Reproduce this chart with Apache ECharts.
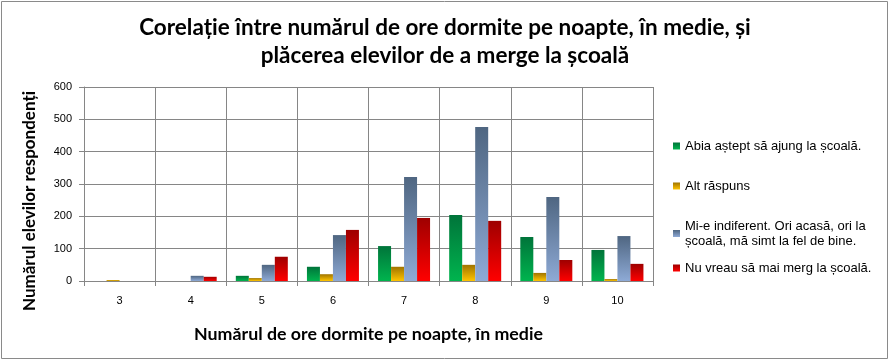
<!DOCTYPE html>
<html><head><meta charset="utf-8">
<script src="https://cdn.jsdelivr.net/npm/echarts@6/dist/echarts.min.js"></script>
<style>html,body{margin:0;padding:0;background:#fff}#c{width:890px;height:361px}</style>
</head><body><div id="c"></div>
<script>
const categories = ['3','4','5','6','7','8','9','10'];
const seriesNames = ['Abia aștept să ajung la școală.','Alt răspuns','Mi-e indiferent. Ori acasă, ori la școală, mă simt la fel de bine.','Nu vreau să mai merg la școală.'];
const abia = [0,0,16,44,108,204,136,96];
const alt = [3,0,9,21,44,50,25,6];
const indiferent = [0,16,50,142,322,476,260,139];
const nuVreau = [0,13,75,158,195,186,65,53];
const yTicks = [0,100,200,300,400,500,600];

const grads = [['#00743A','#00B44E'],['#A07400','#FFC400'],['#4F6681','#8EAAD6'],['#9E0000','#FF0000']];
function grad(c){return new echarts.graphic.LinearGradient(0,0,0,1,[{offset:0,color:c[0]},{offset:1,color:c[1]}]);}
const values=[abia,alt,indiferent,nuVreau];
const chart = echarts.init(document.getElementById('c'));
const legendTops=[133.5,173.5,213.5,255.5];
chart.setOption({
  animation:false,
  graphic:[
    {type:'rect',shape:{x:1.5,y:1.5,width:886,height:357},style:{fill:'none',stroke:'#8a8a8a',lineWidth:1},silent:true},
    {type:'text',x:30,y:201,rotation:Math.PI/2,style:{text:'Numărul elevilor respondenți',align:'center',verticalAlign:'middle',
      fontFamily:'Lato',fontWeight:'bold',fontSize:17,fill:'#000'},silent:true}
  ],
  title:{text:'Corelație între numărul de ore dormite pe noapte, în medie, și\nplăcerea elevilor de a merge la școală',left:'center',top:9,
    textStyle:{fontFamily:'Lato',fontWeight:'bold',fontSize:22.5,lineHeight:28,color:'#000'}},
  legend: seriesNames.map((n,i)=>({data:[n],orient:'vertical',left:668,top:legendTops[i],itemWidth:7,itemHeight:7,itemGap:0,icon:'rect',
    formatter: i===2 ? ()=> 'Mi-e indiferent. Ori acasă, ori la\nșcoală, mă simt la fel de bine.' : undefined,
    textStyle:{fontFamily:'Liberation Sans',fontSize:13,color:'#000',lineHeight:15}})),
  grid:{left:84,right:237,top:87,bottom:80,containLabel:false},
  xAxis:{type:'category',data:categories,
    axisLine:{lineStyle:{color:'#868686'}},axisTick:{show:true,length:5,lineStyle:{color:'#868686'}},
    splitLine:{show:true,lineStyle:{color:'#868686'}},
    axisLabel:{fontFamily:'Liberation Sans',fontSize:11,color:'#000',margin:14},
    name:'Numărul de ore dormite pe noapte, în medie',nameLocation:'middle',nameGap:44,
    nameTextStyle:{fontFamily:'Lato',fontWeight:'bold',fontSize:17.8,color:'#000'}},
  yAxis:{type:'value',min:0,max:600,interval:100,
    axisLine:{show:true,lineStyle:{color:'#868686'}},axisTick:{show:true,length:5,lineStyle:{color:'#868686'}},
    splitLine:{show:true,lineStyle:{color:'#868686'}},
    axisLabel:{fontFamily:'Liberation Sans',fontSize:11,color:'#000',margin:12,formatter:v=>yTicks.includes(v)?String(v):''}},
  series: seriesNames.map((n,i)=>({name:n,type:'bar',data:values[i],barWidth:13,barGap:'0%',
    itemStyle:{color:grad(grads[i])}}))
});
</script></body></html>
